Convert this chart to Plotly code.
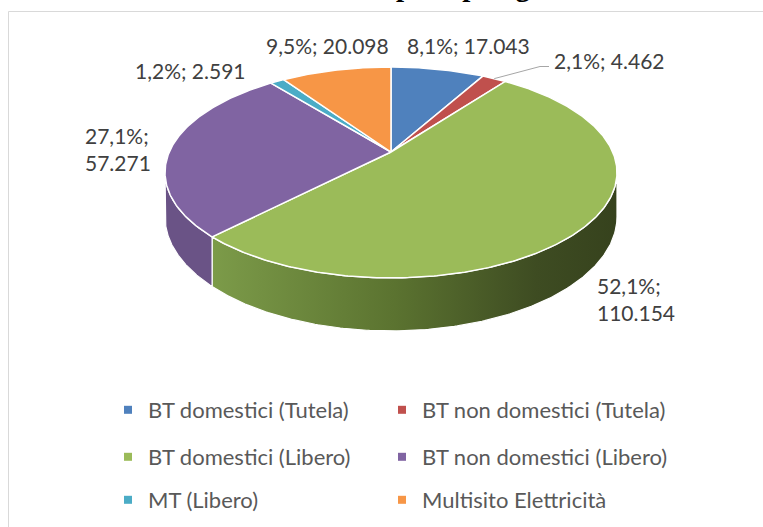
import numpy as np
import plotly.graph_objects as go

# ---- data ----
categories = ["BT domestici (Tutela)", "BT non domestici (Tutela)",
              "BT domestici (Libero)", "BT non domestici (Libero)",
              "MT (Libero)", "Multisito Elettricità"]
values = [17043, 4462, 110154, 57271, 2591, 20098]
colors = ["#4f81bd", "#c0504d", "#9bbb59", "#8064a2", "#4bacc6", "#f79646"]
title_text = "Clienti per tipologia"

# ---- geometry / style (pixel-like axis units) ----
W, H = 763, 527
CX, CY = 391, 152          # projected pie centre
A, B, K, D0 = 221.7, 101.5, 0.194, 42.7
LABEL_FONT = dict(family="Lato", size=21, color="#404040")

def proj(phi, depth=0.0):
    X = np.cos(phi); Z = np.sin(phi)
    s = 1 + K * Z
    return CX + A * X / s, CY - B * Z / s + depth * D0 / s

vals = np.array(values, dtype=float)
fracs = vals / vals.sum()
ends = np.pi / 2 - 2 * np.pi * np.cumsum(fracs)
starts = np.concatenate([[np.pi / 2], ends[:-1]])

def darker(hexc, f):
    h = hexc.lstrip('#')
    r, g, b = [int(h[i:i + 2], 16) for i in (0, 2, 4)]
    return "#%02x%02x%02x" % (int(r * f), int(g * f), int(b * f))

fig = go.Figure()

# ---- side walls (front, visible part) ----
a = np.arcsin(K)
v_lo, v_hi = -np.pi + a, -a
for i in range(len(values)):
    s_lo, s_hi = ends[i], starts[i]
    for shift in (0, -2 * np.pi, 2 * np.pi):
        lo = max(s_lo, v_lo + shift); hi = min(s_hi, v_hi + shift)
        if lo < hi:
            ph = np.linspace(hi, lo, 200)
            xt, yt = proj(ph, 0)
            xb, yb = proj(ph[::-1], 1)
            xs = np.concatenate([xt, xb, xt[:1]])
            ys = np.concatenate([yt, yb, yt[:1]])
            kw = {}
            if colors[i] == "#9bbb59":
                kw["fillgradient"] = dict(type="horizontal",
                                          colorscale=[[0, "#7c9b49"], [0.45, "#5b7330"],
                                                      [0.8, "#3e4c22"], [1, "#36421d"]])
            else:
                kw["fillcolor"] = darker(colors[i], 0.83)
            fig.add_trace(go.Scatter(x=xs, y=ys, mode="lines", fill="toself",
                                     line=dict(color="white", width=1.2),
                                     hoverinfo="skip", showlegend=False, **kw))

# ---- top faces ----
for i in range(len(values)):
    n = max(int(abs(starts[i] - ends[i]) / (2 * np.pi) * 600), 8)
    ph = np.linspace(starts[i], ends[i], n)
    xr, yr = proj(ph, 0)
    xs = np.concatenate([[CX], xr, [CX]])
    ys = np.concatenate([[CY], yr, [CY]])
    fig.add_trace(go.Scatter(x=xs, y=ys, mode="lines", fill="toself",
                             fillcolor=colors[i],
                             line=dict(color="white", width=1.5),
                             hoverinfo="skip", showlegend=False))

# ---- data labels ----
def fmt(i):
    p = ("%.1f" % (fracs[i] * 100)).replace(".", ",")
    v = "{:,}".format(values[i]).replace(",", ".")
    return p + "%;", v

label_pos = [  # (x, y, two_lines)
    (468, 45, False), (609, 60, False), (636, 299, True),
    (118, 149, True), (190, 70, False), (327, 45, False)]
for i, (lx, ly, two) in enumerate(label_pos):
    p, v = fmt(i)
    txt = (p + "<br>" + v) if two else (p + " " + v)
    fig.add_annotation(x=lx, y=ly, xref="x", yref="y", text=txt, showarrow=False,
                       font=LABEL_FONT, align="left", xanchor="center", yanchor="middle")

# leader line for the small red slice
mid = (starts[1] + ends[1]) / 2
lx0, ly0 = proj(mid, 0)
fig.add_trace(go.Scatter(x=[lx0, 540, 549], y=[ly0, 66.5, 66.5], mode="lines",
                         line=dict(color="#a6a6a6", width=1),
                         hoverinfo="skip", showlegend=False))

# ---- legend entries: one legend per entry, 3 rows x 2 columns ----
leg_names = ["legend", "legend2", "legend3", "legend4", "legend5", "legend6"]
for i, c in enumerate(categories):
    fig.add_trace(go.Scatter(x=[None], y=[None], mode="markers", name=c,
                             marker=dict(symbol="square", size=8, color=colors[i]),
                             legend=leg_names[i]))

leg_rows = [410, 457, 500]
leg_cols = [108, 382]
legs = {}
for i, name in enumerate(leg_names):
    legs[name] = dict(orientation="h", xanchor="left", yanchor="middle",
                      x=leg_cols[i % 2] / W, y=1 - leg_rows[i // 2] / H,
                      font=dict(family="Lato", size=22, color="#595959"),
                      bgcolor="rgba(0,0,0,0)", borderwidth=0, itemclick=False,
                      itemdoubleclick=False)

# ---- title (mostly clipped above the frame) ----
fig.add_annotation(x=429 / W, y=1 + 14 / H, xref="paper", yref="paper",
                   text="<b>" + title_text + "</b>", showarrow=False,
                   font=dict(family="Liberation Serif", size=29, color="black"),
                   xanchor="center", yanchor="middle")

# ---- chart frame (left and top edges visible) ----
fig.add_shape(type="line", xref="paper", yref="paper",
              x0=8.5 / W, y0=1 - 11.5 / H, x1=1.0, y1=1 - 11.5 / H,
              line=dict(color="#d9d9d9", width=1))
fig.add_shape(type="line", xref="paper", yref="paper",
              x0=8.5 / W, y0=1 - 11.5 / H, x1=8.5 / W, y1=0,
              line=dict(color="#d9d9d9", width=1))

fig.update_layout(
    width=W, height=H, margin=dict(l=0, r=0, t=0, b=0),
    paper_bgcolor="white", plot_bgcolor="white",
    xaxis=dict(range=[0, W], visible=False, fixedrange=True),
    yaxis=dict(range=[H, 0], visible=False, fixedrange=True),
    **legs,
)

fig.write_html("out.html", config={"displayModeBar": False},
               post_script="document.body.style.margin='0';"
                           "document.body.style.overflow='hidden';")
